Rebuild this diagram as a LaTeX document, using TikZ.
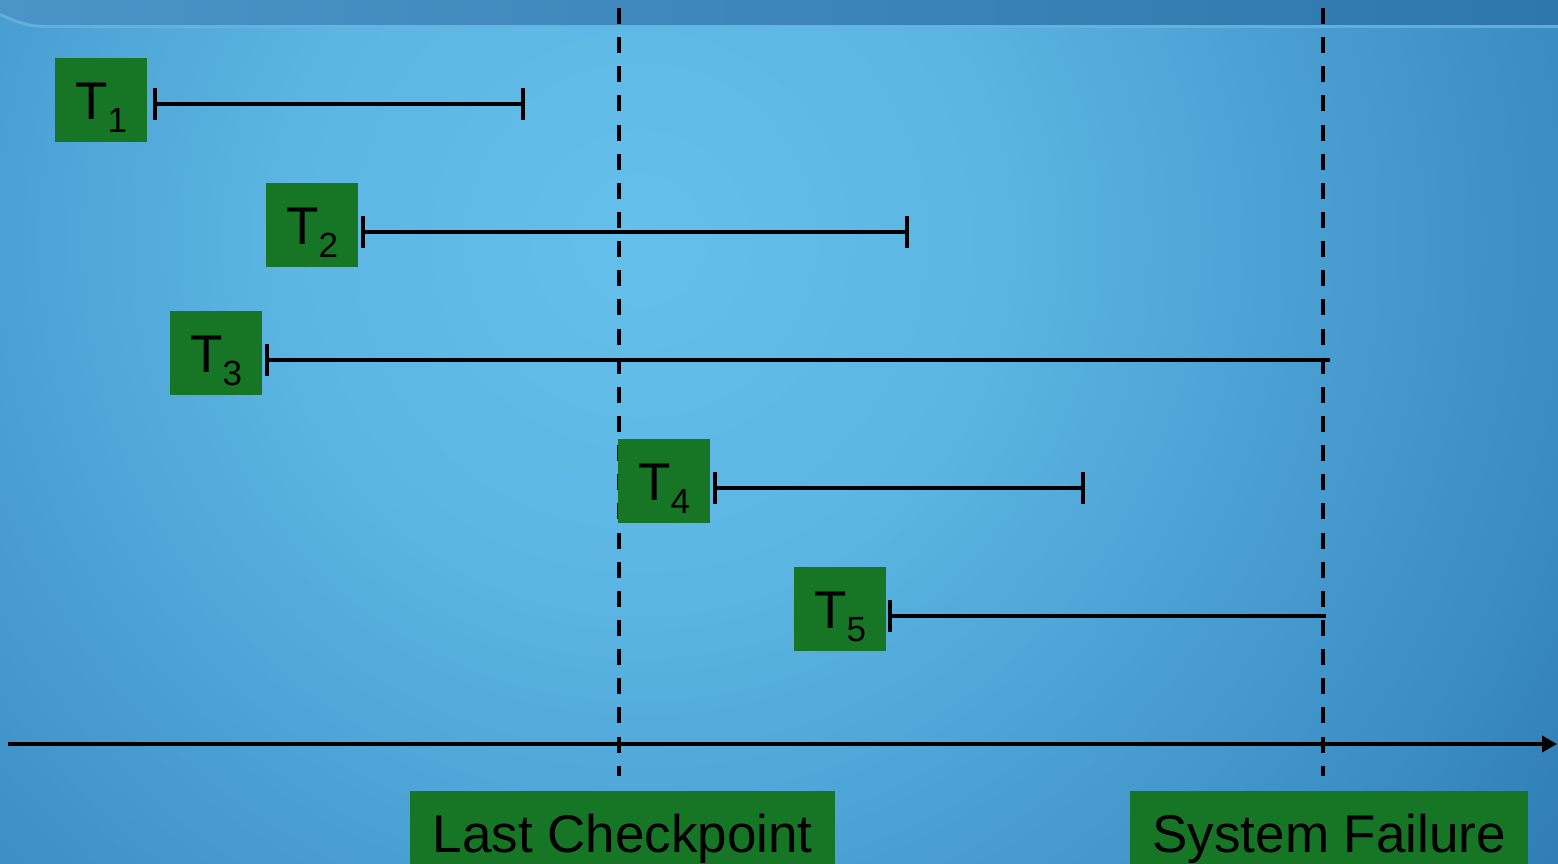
\documentclass[tikz,border=0pt]{standalone}
\usepackage{fontspec}
\setmainfont{Liberation Sans}
\usetikzlibrary{arrows.meta}

\definecolor{boxgreen}{HTML}{177526}
\definecolor{bgA}{HTML}{64C0EA}
\definecolor{bgB}{HTML}{5CB5E3}
\definecolor{bgC}{HTML}{4A9FD2}
\definecolor{bgD}{HTML}{3A8CC2}
\definecolor{bgE}{HTML}{2F7DB4}
\definecolor{bandL}{HTML}{4A94C8}
\definecolor{bandR}{HTML}{2E77AD}
\definecolor{rim}{HTML}{68B4DE}

% radial glow; the path's bounding box maps onto the inner 25bp radius
\pgfdeclareradialshading{skyglow}{\pgfpointorigin}{%
  color(0bp)=(bgA); color(8bp)=(bgB); color(15bp)=(bgC);
  color(21bp)=(bgD); color(25bp)=(bgE); color(50bp)=(bgE)}

\newcommand{\txlabel}[1]{T\raisebox{-13pt}{\fontsize{35}{40}\selectfont #1}}

\tikzset{
  tbox/.style={fill=boxgreen, minimum width=92pt, minimum height=84pt,
    inner sep=0pt, text height=45pt, text depth=7pt,
    font=\fontsize{53}{60}\selectfont, anchor=north west},
  lbox/.style={fill=boxgreen, minimum height=90pt, inner sep=0pt,
    text height=40pt, text depth=8pt,
    font=\fontsize{53}{60}\selectfont, anchor=north west},
  span/.style={line width=4pt, {Bar[width=32pt]}-{Bar[width=32pt]}},
  openspan/.style={line width=4pt, {Bar[width=32pt]}-},
  guide/.style={line width=4pt, dash pattern=on 16pt off 13.14pt},
  timeaxis/.style={line width=4pt, -{Triangle[length=15pt,width=16pt]}},
}

\begin{document}
\begin{tikzpicture}[x=1pt, y=-1pt]
  \useasboundingbox (0,0) rectangle (1558,863);

  % background
  \begin{scope}
    \clip (0,0) rectangle (1558,863);
    \shade[shading=skyglow] (640,240) circle (1110);
    \shade[left color=bandL, right color=bandR]
      (0,0) -- (1558,0) -- (1558,25) -- (45,25)
      .. controls (25,25) and (12,18) .. (0,13) -- cycle;
    \draw[rim, line width=3pt, opacity=0.8]
      (0,14.5) .. controls (12,19.5) and (25,26.5) .. (45,26.5) -- (1558,26.5);
  \end{scope}

  % checkpoint and failure markers
  \coordinate (cptop) at (618.7,8);
  \coordinate (cpbot) at (618.7,776);
  \coordinate (sftop) at (1322.7,8);
  \coordinate (sfbot) at (1322.7,776);
  \draw[guide] (cptop) -- (cpbot);
  \draw[guide] (sftop) -- (sfbot);

  % time axis
  \coordinate (axstart) at (8,744);
  \coordinate (axend) at (1557,744);
  \draw[timeaxis] (axstart) -- (axend);

  % transactions
  \node[tbox] (t1) at (55,58)   {\txlabel{1}};
  \node[tbox] (t2) at (266,183) {\txlabel{2}};
  \node[tbox] (t3) at (170,311) {\txlabel{3}};
  \node[tbox] (t4) at (618,439) {\txlabel{4}};
  \node[tbox] (t5) at (794,567) {\txlabel{5}};

  \coordinate (e1) at (525,104);
  \coordinate (e2) at (909,231.5);
  \coordinate (e3) at (1330,359.7);
  \coordinate (e4) at (1085,488);
  \coordinate (e5) at (1326,615.5);

  \draw[span]     ([xshift=6pt]e1 -| t1.east) -- (e1);
  \draw[span]     ([xshift=3pt]e2 -| t2.east) -- (e2);
  \draw[openspan] ([xshift=3pt]e3 -| t3.east) -- (e3);
  \draw[span]     ([xshift=3pt]e4 -| t4.east) -- (e4);
  \draw[openspan] ([xshift=2pt]e5 -| t5.east) -- (e5);

  % marker labels
  \node[lbox, minimum width=425pt] (lc) at (410,791) {Last Checkpoint};
  \node[lbox, minimum width=398pt] (sf) at (1130,791) {System Failure};
\end{tikzpicture}
\end{document}
